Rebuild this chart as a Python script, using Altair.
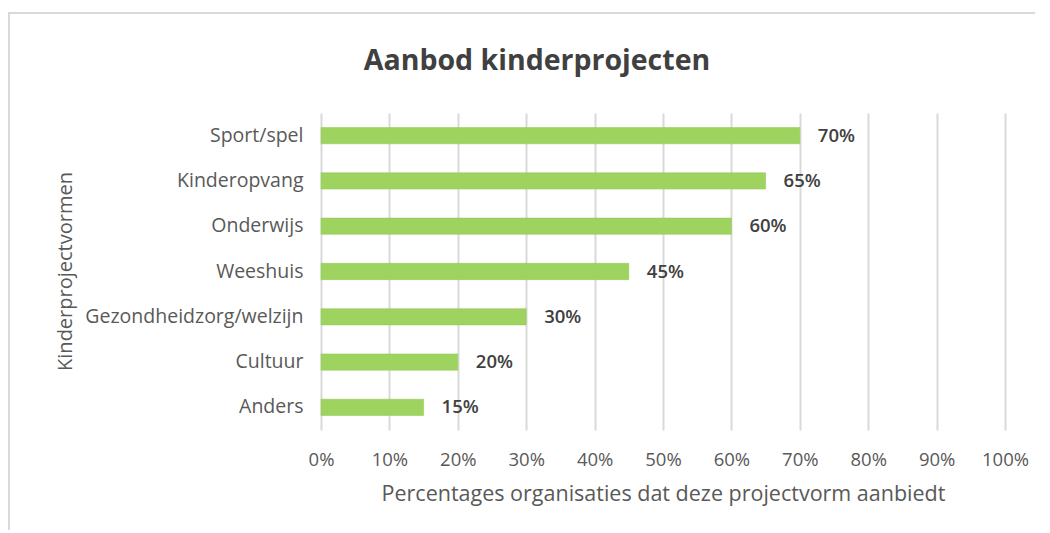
import altair as alt
import pandas as pd

categories = ["Sport/spel", "Kinderopvang", "Onderwijs", "Weeshuis",
              "Gezondheidzorg/welzijn", "Cultuur", "Anders"]
values = [0.70, 0.65, 0.60, 0.45, 0.30, 0.20, 0.15]
labels = ["70%", "65%", "60%", "45%", "30%", "20%", "15%"]
chart_title = ["Aanbod kinderprojecten"]

df = pd.DataFrame({"cat": categories, "val": values, "lab": labels})

FONT = "Open Sans"
GREY = "#595959"

y_enc = alt.Y("cat:N", sort=categories, title="Kinderprojectvormen",
              scale=alt.Scale(paddingInner=0.64, paddingOuter=0.32),
              axis=alt.Axis(labelFontSize=19.5, labelColor=GREY, labelFont=FONT,
                            titleFontSize=20, titleColor=GREY, titleFont=FONT,
                            titleFontWeight="normal", labelPadding=18,
                            titleX=-246, titleY=158, titleAngle=-90, titleAlign="center",
                            titleBaseline="bottom",
                            labelLimit=400, ticks=False, domain=False, grid=False))

x_enc = alt.X("val:Q", title="Percentages organisaties dat deze projectvorm aanbiedt",
              scale=alt.Scale(domain=[0, 1]),
              axis=alt.Axis(format=".0%", values=[i / 10 for i in range(11)],
                            labelFontSize=18.5, labelColor=GREY, labelFont=FONT,
                            labelFlush=False,
                            titleFontSize=21.5, titleColor=GREY, titleFont=FONT,
                            titleFontWeight="normal", labelPadding=20, titlePadding=15,
                            ticks=False, domain=False, grid=True,
                            gridColor="#d9d9d9", gridWidth=2))

border = alt.Chart(df).mark_rect(fillOpacity=0, stroke="#d9d9d9", strokeWidth=1.5, clip=False).encode(
    x=alt.value(-312), x2=alt.value(760), y=alt.value(-100), y2=alt.value(440)
)

title_df = pd.DataFrame({"t": chart_title})
title = alt.Chart(title_df).mark_text(font=FONT, fontSize=28.5, fontWeight="bold",
                                      color="#404040", align="center", baseline="middle").encode(
    x=alt.value(216), y=alt.value(-52), text="t:N"
)

bars = alt.Chart(df).mark_bar(color="#9fd360", stroke="#8cc850", strokeWidth=0.5).encode(
    x=x_enc, y=y_enc
)

text = alt.Chart(df).mark_text(align="left", dx=18, fontSize=18.5, font=FONT,
                               fontWeight=600, color="#404040").encode(
    x="val:Q", y=alt.Y("cat:N", sort=categories), text="lab:N"
)

chart = alt.layer(border, title, bars, text).properties(
    width=684, height=317,
    padding={"left": 313, "top": 105, "right": 30, "bottom": 100},
    autosize=alt.AutoSizeParams(type="none"),
).configure_view(stroke=None)

chart.save("out.html", embed_options={"renderer": "svg", "actions": False})
